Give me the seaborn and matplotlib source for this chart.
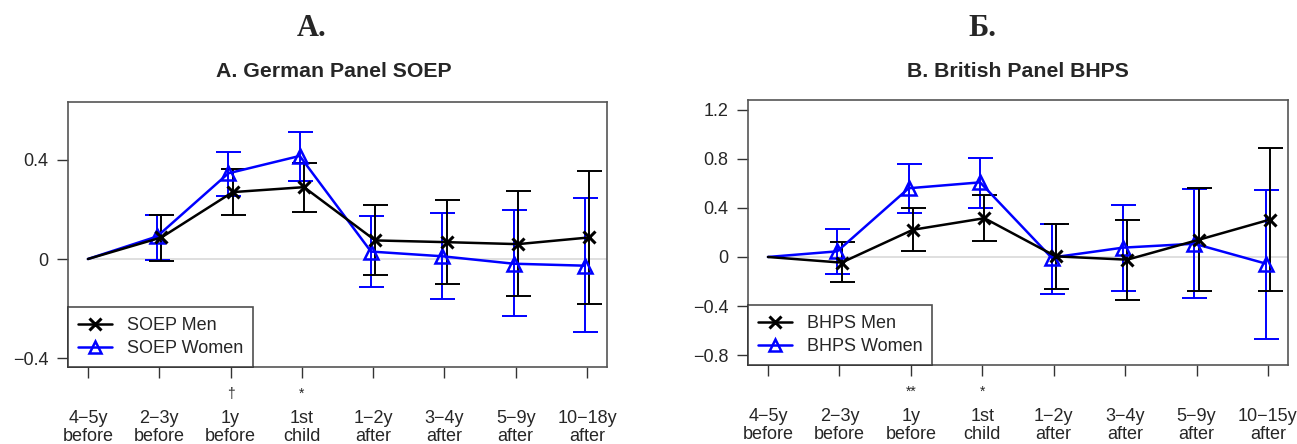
import numpy as np
import pandas as pd
import matplotlib
matplotlib.use("Agg")
import matplotlib.pyplot as plt
import seaborn as sns
from matplotlib.lines import Line2D
from matplotlib import transforms

# ---------------- data ----------------
soep_labels = ["4\u22125y\nbefore", "2\u22123y\nbefore", "1y\nbefore", "1st\nchild",
               "1\u22122y\nafter", "3\u22124y\nafter", "5\u22129y\nafter", "10\u221218y\nafter"]
bhps_labels = ["4\u22125y\nbefore", "2\u22123y\nbefore", "1y\nbefore", "1st\nchild",
               "1\u22122y\nafter", "3\u22124y\nafter", "5\u22129y\nafter", "10\u221215y\nafter"]

soep_men = [0.0, 0.087, 0.270, 0.290, 0.075, 0.068, 0.060, 0.087]
soep_men_lo = [np.nan, -0.007, 0.178, 0.191, -0.066, -0.100, -0.150, -0.182]
soep_men_hi = [np.nan, 0.176, 0.362, 0.389, 0.216, 0.239, 0.273, 0.355]
soep_women = [0.0, 0.091, 0.346, 0.416, 0.030, 0.011, -0.019, -0.027]
soep_women_lo = [np.nan, -0.004, 0.254, 0.316, -0.113, -0.163, -0.230, -0.296]
soep_women_hi = [np.nan, 0.176, 0.433, 0.513, 0.175, 0.184, 0.198, 0.247]
soep_sig = ["", "", "\u2020", "*", "", "", "", ""]

bhps_men = [0.0, -0.046, 0.222, 0.316, 0.005, -0.022, 0.140, 0.305]
bhps_men_lo = [np.nan, -0.203, 0.046, 0.127, -0.260, -0.350, -0.280, -0.280]
bhps_men_hi = [np.nan, 0.119, 0.400, 0.503, 0.265, 0.303, 0.562, 0.892]
bhps_women = [0.0, 0.046, 0.560, 0.608, -0.005, 0.076, 0.108, -0.054]
bhps_women_lo = [np.nan, -0.140, 0.360, 0.400, -0.300, -0.278, -0.336, -0.672]
bhps_women_hi = [np.nan, 0.230, 0.754, 0.805, 0.265, 0.420, 0.551, 0.549]
bhps_sig = ["", "", "**", "*", "", "", "", ""]

# ---------------- style ----------------
sns.set_theme(style="white")
plt.rcParams["font.family"] = ["Liberation Sans", "DejaVu Sans"]

fig = plt.figure(figsize=(12.97, 4.44), dpi=100)
ax1 = fig.add_axes([0.0524, 0.1734, 0.4156, 0.597])
ax2 = fig.add_axes([0.5767, 0.178, 0.4163, 0.597])

BLUE = "#0000FF"


def panel(ax, labels, men, mlo, mhi, wom, wlo, whi, sig, ylim, yticks, ytl,
          leg_names):
    pos = np.arange(1, len(labels) + 1)
    off = 0.03
    xm = pos + off
    xw = pos - off
    xm[0] = pos[0]
    xw[0] = pos[0]
    ax.hlines(0, pos[0], pos[-1] + 0.3, color="#d9d9d9", lw=1.2, zorder=0)

    men = np.array(men); mlo = np.array(mlo); mhi = np.array(mhi)
    wom = np.array(wom); wlo = np.array(wlo); whi = np.array(whi)

    ax.errorbar(xw[1:], wom[1:], yerr=[wom[1:] - wlo[1:], whi[1:] - wom[1:]],
                fmt="none", ecolor=BLUE, elinewidth=1.4, capsize=9, capthick=1.4, zorder=2)
    ax.errorbar(xm[1:], men[1:], yerr=[men[1:] - mlo[1:], mhi[1:] - men[1:]],
                fmt="none", ecolor="black", elinewidth=1.4, capsize=9, capthick=1.4, zorder=3)

    dm = pd.DataFrame({"x": xm, "y": men})
    dw = pd.DataFrame({"x": xw, "y": wom})
    mk = list(range(1, len(pos)))
    sns.lineplot(data=dm, x="x", y="y", ax=ax, color="black", lw=1.8,
                 marker="x", markersize=9, markeredgewidth=2.2, markeredgecolor="black",
                 markevery=mk, zorder=5, sort=False)
    sns.lineplot(data=dw, x="x", y="y", ax=ax, color=BLUE, lw=1.8,
                 marker="^", markersize=10, markerfacecolor="none", markeredgecolor=BLUE,
                 markeredgewidth=1.8, markevery=mk, zorder=4, sort=False)

    ax.set_xlim(0.72, 8.28)
    ax.set_ylim(*ylim)
    ax.set_xticks(pos)
    ax.set_xticklabels(labels, fontsize=13, linespacing=1.05)
    ax.set_yticks(yticks)
    ax.set_yticklabels(ytl, fontsize=13)
    ax.set_xlabel("")
    ax.set_ylabel("")
    ax.tick_params(axis="x", direction="out", length=8, width=1, color="#333333",
                   pad=23, bottom=True)
    ax.tick_params(axis="y", direction="out", length=8, width=1, color="#333333",
                   pad=6, left=True)
    for s in ax.spines.values():
        s.set_color("#555555")
        s.set_linewidth(1.2)

    tr = transforms.blended_transform_factory(ax.transData, ax.transAxes)
    for p, s in zip(pos, sig):
        if s:
            ax.text(p, -0.10, s, transform=tr, ha="center", va="center", fontsize=10)

    handles = [Line2D([], [], color="black", lw=1.8, marker="x", markersize=9,
                      markeredgewidth=2.2),
               Line2D([], [], color=BLUE, lw=1.8, marker="^", markersize=9,
                      markerfacecolor="none", markeredgewidth=1.8)]
    leg = ax.legend(handles, leg_names, loc="lower left", fontsize=13, frameon=True,
                    fancybox=False, borderaxespad=0, handlelength=1.9,
                    borderpad=0.55, labelspacing=0.33, handletextpad=0.8)
    leg.get_frame().set_edgecolor("#222222")
    leg.get_frame().set_linewidth(1.2)


panel(ax1, soep_labels, soep_men, soep_men_lo, soep_men_hi,
      soep_women, soep_women_lo, soep_women_hi, soep_sig,
      (-0.436, 0.634), [-0.4, 0, 0.4], ["\u22120.4", "0", "0.4"],
      ["SOEP Men", "SOEP Women"])
panel(ax2, bhps_labels, bhps_men, bhps_men_lo, bhps_men_hi,
      bhps_women, bhps_women_lo, bhps_women_hi, bhps_sig,
      (-0.88, 1.28), [-0.8, -0.4, 0, 0.4, 0.8, 1.2],
      ["\u22120.8", "\u22120.4", "0", "0.4", "0.8", "1.2"],
      ["BHPS Men", "BHPS Women"])

fig.text(0.2575, 0.838, "A. German Panel SOEP", ha="center", va="center",
         fontsize=15.3, fontweight="bold")
fig.text(0.785, 0.838, "B. British Panel BHPS", ha="center", va="center",
         fontsize=15.3, fontweight="bold")
fig.text(312 / 1297, 1 - 28 / 444, "A.", ha="center", va="center", fontsize=22,
         fontweight="bold", family="Liberation Serif")
fig.text(982 / 1297, 1 - 28 / 444, "\u0411.", ha="center", va="center", fontsize=22,
         fontweight="bold", family="Liberation Serif")

fig.savefig("out.png", dpi=100)
